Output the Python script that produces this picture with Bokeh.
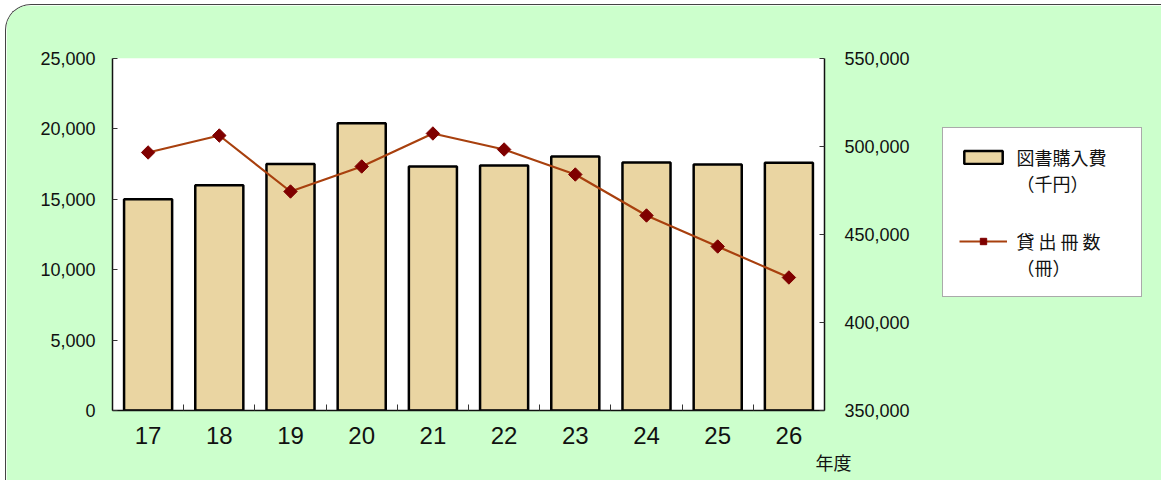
import math
from bokeh.plotting import figure
from bokeh.models import (Range1d, LinearAxis, FixedTicker, NumeralTickFormatter,
                          Legend, LegendItem, Title)
from bokeh.embed import file_html
from bokeh.resources import INLINE

years = ["17", "18", "19", "20", "21", "22", "23", "24", "25", "26"]
purchase_cost = [15000, 16000, 17500, 20400, 17330, 17400, 18040, 17610, 17470, 17600]
loans = [496600, 506250, 474430, 488640, 507390, 498300, 484090, 460800, 443180, 425570]
left_ticks = [0, 5000, 10000, 15000, 20000, 25000]
right_ticks = [350000, 400000, 450000, 500000, 550000]

xs = list(range(1, len(years) + 1))

p = figure(output_backend="svg", toolbar_location=None,
           frame_width=712, frame_height=352,
           min_border_left=106, min_border_right=337,
           min_border_top=53, min_border_bottom=71,
           x_range=Range1d(0.5, 10.5), y_range=Range1d(0, 25000),
           y_axis_location=None, x_axis_location=None,
           border_fill_color="#CCFFCC", background_fill_color="white",
           outline_line_color=None)
p.styles = {"border-left": "1.5px solid #444", "border-top": "1.5px solid #444",
            "border-radius": "26px 26px 0 0", "overflow": "hidden",
            "box-sizing": "border-box", "margin": "4px 0 0 5px"}
p.grid.visible = False
p.extra_y_ranges = {"right": Range1d(350000, 550000)}

num_font = "Liberation Sans"
jp_font = "Noto Sans CJK JP"

yl = LinearAxis(ticker=FixedTicker(ticks=left_ticks),
                formatter=NumeralTickFormatter(format="0,0"))
yr = LinearAxis(y_range_name="right", ticker=FixedTicker(ticks=right_ticks),
                formatter=NumeralTickFormatter(format="0,0"))
for ax in (yl, yr):
    ax.major_tick_in = 5
    ax.major_tick_out = 0
    ax.minor_tick_line_color = None
    ax.axis_line_color = "#111"
    ax.axis_line_width = 1.5
    ax.major_tick_line_color = "#333"
    ax.major_label_text_font = num_font
    ax.major_label_text_font_size = "18px"
    ax.major_label_text_color = "#111"
yl.major_label_standoff = 17
yr.major_label_standoff = 20
p.add_layout(yl, "left")
p.add_layout(yr, "right")

xa = LinearAxis(ticker=FixedTicker(ticks=xs, minor_ticks=[x + 0.5 for x in range(0, 11)]),
                major_label_overrides={x: y for x, y in zip(xs, years)})
xa.major_tick_in = 0
xa.major_tick_out = 0
xa.minor_tick_in = 6
xa.minor_tick_out = 0
xa.minor_tick_line_color = "#333"
xa.axis_line_color = "#111"
xa.axis_line_width = 1.5
xa.major_label_text_font = num_font
xa.major_label_text_font_size = "24px"
xa.major_label_text_color = "#111"
xa.major_label_standoff = 16
p.add_layout(xa, "below")

p.add_layout(Title(text="年度", align="right", offset=-27, standoff=0,
                   text_font=jp_font, text_font_size="18px",
                   text_font_style="normal", text_color="#111"), "below")

bars = p.vbar(x=xs, top=purchase_cost, width=0.675, fill_color="#EAD5A2",
              line_color="black", line_width=2.5)
ln = p.line(x=xs, y=loans, y_range_name="right", line_color="#A8400E", line_width=2.2)
pts = p.scatter(x=xs, y=loans, y_range_name="right", marker="square", size=9.5,
                angle=math.pi / 4, fill_color="#7F0000", line_color="#7F0000")

legend = Legend(items=[LegendItem(label="図書購入費", renderers=[bars]),
                       LegendItem(label="（千円）", renderers=[]),
                       LegendItem(label="", renderers=[]),
                       LegendItem(label="", renderers=[]),
                       LegendItem(label="貸 出 冊 数", renderers=[ln, pts]),
                       LegendItem(label="（冊）", renderers=[])],
                location=(-197, 113), orientation="vertical",
                border_line_color="#555", border_line_width=1,
                background_fill_color="white", background_fill_alpha=1,
                glyph_width=48, glyph_height=16, label_standoff=10,
                label_width=108, label_height=16,
                label_text_font=jp_font, label_text_font_size="18px",
                label_text_color="#111",
                padding=16, spacing=0, margin=0)
p.add_layout(legend, "right")

open("out.html", "w").write(file_html(p, INLINE))
